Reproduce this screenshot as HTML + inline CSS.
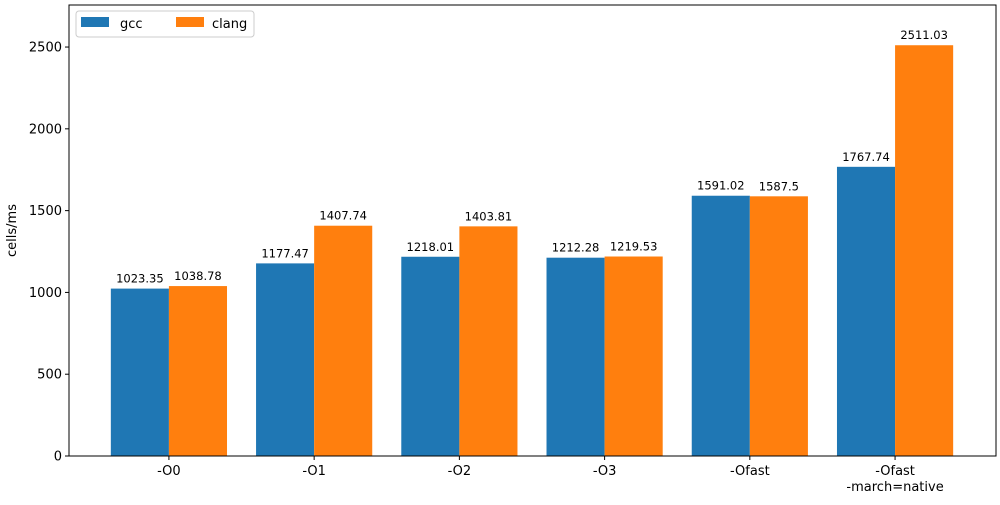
<!DOCTYPE html>
<html><head><meta charset="utf-8"><style>
body{margin:0;background:#fff;font-family:"Liberation Sans","DejaVu Sans",sans-serif}
svg text{font-family:"DejaVu Sans","Liberation Sans",sans-serif}
</style></head><body>
<svg id="chart" width="1000" height="500"></svg>
<script>
const categories=["-O0","-O1","-O2","-O3","-Ofast","-Ofast\n-march=native"];
const gccValues=[1023.35,1177.47,1218.01,1212.28,1591.02,1767.74];
const clangValues=[1038.78,1407.74,1403.81,1219.53,1587.5,2511.03];
const gccLabels=["1023.35","1177.47","1218.01","1212.28","1591.02","1767.74"];
const clangLabels=["1038.78","1407.74","1403.81","1219.53","1587.5","2511.03"];
const yTicks=[0,500,1000,1500,2000,2500];
const L=69,R=996,T=5,B=456;
const xMin=-0.688,xMax=5.695,yMax=2757;
const xs=v=>L+(v-xMin)/(xMax-xMin)*(R-L);
const ys=v=>B-v/yMax*(B-T);
const NS="http://www.w3.org/2000/svg";
const svg=document.getElementById('chart');
function mk(tag,attrs,txt){const e=document.createElementNS(NS,tag);for(const k in attrs)e.setAttribute(k,attrs[k]);if(txt!==undefined)e.textContent=txt;svg.appendChild(e);return e;}
const bw=0.4;
categories.forEach((c,i)=>{
  const g=mk('rect',{x:xs(i-bw),y:ys(gccValues[i]),width:xs(i)-xs(i-bw),height:B-ys(gccValues[i]),fill:'#1f77b4'});
  
  
  const k=mk('rect',{x:xs(i),y:ys(clangValues[i]),width:xs(i+bw)-xs(i),height:B-ys(clangValues[i]),fill:'#ff7f0e'});
  
  
  const t1=mk('text',{x:xs(i-bw/2),y:ys(gccValues[i])-6,'font-size':11.5,'text-anchor':'middle'},gccLabels[i]);
  
  
  const t2=mk('text',{x:xs(i+bw/2),y:ys(clangValues[i])-6,'font-size':11.5,'text-anchor':'middle'},clangLabels[i]);
  
  
  mk('line',{x1:xs(i),x2:xs(i),y1:B,y2:B+4,stroke:'#000'});
  c.split('\n').forEach((ln,j)=>{
    const t=mk('text',{x:xs(i),y:B+19+j*16,'font-size':13,'text-anchor':'middle'},ln);
    
    
  });
});
yTicks.forEach(v=>{
  mk('line',{x1:L-4,x2:L,y1:ys(v),y2:ys(v),stroke:'#000'});
  const t=mk('text',{x:L-7,y:ys(v)+4.5,'font-size':13,'text-anchor':'end'},String(v));
  
  
});
const ax=mk('rect',{x:L,y:T,width:R-L,height:B-T,fill:'none',stroke:'#000','stroke-width':1});


const yt=mk('text',{x:16,y:(T+B)/2,'font-size':13,'text-anchor':'middle',transform:`rotate(-90 16 ${(T+B)/2})`},'cells/ms');


const lg=mk('rect',{x:76,y:11,width:178,height:26,rx:3,fill:'#fff',stroke:'#ccc'});


mk('rect',{x:81,y:17,width:28,height:10,fill:'#1f77b4'});
const l1=mk('text',{x:120,y:28,'font-size':13},'gcc');


mk('rect',{x:176,y:17,width:28,height:10,fill:'#ff7f0e'});
const l2=mk('text',{x:212,y:28,'font-size':13},'clang');


</script>
</body></html>
